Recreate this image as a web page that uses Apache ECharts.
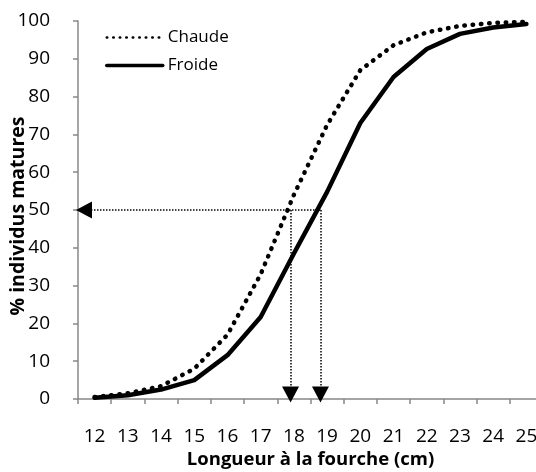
<!DOCTYPE html>
<html>
<head>
<meta charset="utf-8">
<script src="https://cdn.jsdelivr.net/npm/echarts@6/dist/echarts.min.js"></script>
<style>html,body{margin:0;padding:0;background:#fff}#c{width:536px;height:472px}</style>
</head>
<body>
<div id="c"></div>
<script>
var categories = ['12','13','14','15','16','17','18','19','20','21','22','23','24','25'];
var chaude = [0.5, 1.5, 3.4, 8, 17, 33, 54, 72.5, 87, 93.6, 97, 98.7, 99.5, 99.8];
var froide = [0.3, 1.0, 2.5, 5.0, 11.6, 21.7, 38.5, 54.8, 73, 85.2, 92.6, 96.6, 98.3, 99.2];
var l50Chaude = 17.9;
var l50Froide = 18.8;
var yTicks = [0, 10, 20, 30, 40, 50, 60, 70, 80, 90, 100];

var font = '"Open Sans", sans-serif';
var chart = echarts.init(document.getElementById('c'));
chart.setOption({
  animation: false,
  backgroundColor: '#fff',
  grid: { left: 78, right: -7, top: 21, bottom: 73, containLabel: false, outerBoundsMode: 'none' },
  legend: {
    data: [
      { name: 'Chaude', lineStyle: { width: 2.5, type: [0.5, 6], cap: 'round' } },
      { name: 'Froide', lineStyle: { width: 3.5 } }
    ],
    itemStyle: { opacity: 0 },
    orient: 'vertical', left: 100, top: 24, itemWidth: 56, itemHeight: 10, itemGap: 11,
    textStyle: { fontFamily: font, fontSize: 17, color: '#000' }
  },
  xAxis: [{
    type: 'category', data: categories, boundaryGap: true,
    axisLine: { lineStyle: { color: '#888', width: 1.5 } },
    axisTick: { show: true, length: 5, lineStyle: { color: '#888', width: 1.5 } },
    axisLabel: { fontFamily: font, fontSize: 19, color: '#000', margin: 28 },
    name: 'Longueur à la fourche (cm)', nameLocation: 'middle', nameGap: 51, nameMoveOverlap: false,
    nameTextStyle: { fontFamily: font, fontSize: 18.5, fontWeight: 'bold', color: '#000' }
  }, {
    type: 'value', min: 11.5, max: 25.5, show: false
  }],
  yAxis: {
    type: 'value', min: yTicks[0], max: yTicks[yTicks.length - 1], interval: 10,
    splitLine: { show: false },
    axisLine: { show: true, lineStyle: { color: '#888', width: 1.5 } },
    axisTick: { show: true, length: 5, lineStyle: { color: '#888', width: 1.5 } },
    axisLabel: { fontFamily: font, fontSize: 19, color: '#000', margin: 20, align: 'right', padding: [0, 8, 0, 0] },
    name: '% individus matures', nameLocation: 'middle', nameGap: 50, nameRotate: 90, nameMoveOverlap: false,
    nameTextStyle: { fontFamily: font, fontSize: 19.5, fontWeight: 'bold', color: '#000', padding: [0, 12, 0, 0] }
  },
  series: [{
    name: 'Chaude', type: 'line', data: chaude, symbol: 'none', z: 3,
    lineStyle: { color: '#000', width: 4.5, type: [0.5, 7.8], cap: 'round' },
    itemStyle: { color: '#000' }
  }, {
    name: 'Froide', type: 'line', data: froide, symbol: 'none', z: 4,
    lineStyle: { color: '#000', width: 4.5, cap: 'round', join: 'round' },
    itemStyle: { color: '#000' }
  }, {
    name: 'ref', type: 'line', xAxisIndex: 1, data: [], symbol: 'none',
    markLine: {
      silent: true, animation: false,
      symbol: ['none', 'triangle'], symbolSize: [17, 16],
      label: { show: false },
      lineStyle: { color: '#000', width: 1.5, type: [1.5, 1.5] },
      data: [
        [{ coord: [l50Froide, 50] }, { coord: [11.68, 50] }],
        [{ coord: [l50Chaude, 50] }, { coord: [l50Chaude, 1.2] }],
        [{ coord: [l50Froide, 50] }, { coord: [l50Froide, 1.2] }]
      ]
    }
  }]
});
</script>
</body>
</html>
